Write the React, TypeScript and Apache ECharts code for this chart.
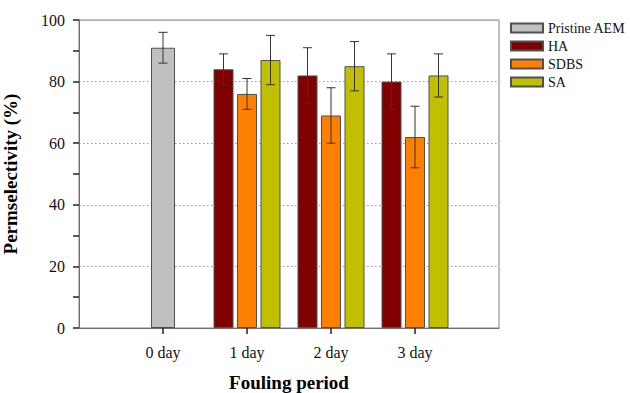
import React, { useEffect, useRef } from "react";
import * as echarts from "echarts";

const categories = ["", "0 day", "1 day", "2 day", "3 day", ""];
const seriesNames = ["Pristine AEM", "HA", "SDBS", "SA"];
const pristineValues = [null, 91, null, null, null, null];
const pristineErrors = [null, 5, null, null, null, null];
const haValues = [null, null, 84, 82, 80, null];
const haErrors = [null, null, 5, 9, 9, null];
const sdbsValues = [null, null, 76, 69, 62, null];
const sdbsErrors = [null, null, 5, 9, 10, null];
const saValues = [null, null, 87, 85, 82, null];
const saErrors = [null, null, 8, 8, 7, null];
const yTicks = [0, 20, 40, 60, 80, 100];

const FONT = "'Liberation Serif', 'Times New Roman', serif";
const colors = ["#c0c0c0", "#800000", "#ff8000", "#c0c000"];

function errData(vals: (number | null)[], errs: (number | null)[]) {
  const out: any[] = [];
  vals.forEach((v, i) => {
    const e = errs[i];
    if (v != null && e != null) out.push([i, v - e, v + e]);
  });
  return out;
}

function errSeries(name: string, vals: any[], errs: any[], offset: number, xAxisIndex: number) {
  return {
    type: "custom",
    name: name + " err",
    xAxisIndex,
    z: 10,
    silent: true,
    data: errData(vals, errs),
    renderItem: (params: any, api: any) => {
      const lo = api.coord([api.value(0), api.value(1)]);
      const hi = api.coord([api.value(0), api.value(2)]);
      const x = lo[0] + offset;
      const cap = 4.5;
      const style = { stroke: "#333", lineWidth: 1 };
      return {
        type: "group",
        children: [
          { type: "line", shape: { x1: x, y1: lo[1], x2: x, y2: hi[1] }, style },
          { type: "line", shape: { x1: x - cap, y1: lo[1], x2: x + cap, y2: lo[1] }, style },
          { type: "line", shape: { x1: x - cap, y1: hi[1], x2: x + cap, y2: hi[1] }, style },
        ],
      };
    },
  };
}

export default function App() {
  const ref = useRef<HTMLDivElement>(null);
  useEffect(() => {
    if (!ref.current) return;
    const chart = echarts.init(ref.current, null, { renderer: "svg" });
    const barItem = (c: string) => ({ color: c, borderColor: "#505050", borderWidth: 1 });
    const xBase = {
      type: "category",
      data: categories,
      boundaryGap: false,
    };
    chart.setOption({
      animation: false,
      textStyle: { fontFamily: FONT },
      grid: {
        left: 79,
        top: 20,
        right: 131,
        bottom: 65,
        show: true,
        borderColor: "#808080",
        borderWidth: 1,
        containLabel: false,
        outerBoundsMode: "none",
      },
      legend: {
        orient: "vertical",
        left: 505,
        top: 16,
        itemWidth: 32,
        itemHeight: 9,
        itemGap: 4,
        icon: "rect",
        data: seriesNames,
        textStyle: { fontFamily: FONT, fontSize: 14, color: "#111" },
      },
      xAxis: [
        {
          ...xBase,
          name: "Fouling period",
          nameLocation: "middle",
          nameGap: 45,
          nameTextStyle: { fontFamily: FONT, fontSize: 19, fontWeight: "bold", color: "#000" },
          axisLine: { lineStyle: { color: "#707070", width: 1 } },
          axisTick: {
            show: true,
            inside: false,
            length: 6,
            lineStyle: { color: "#222", width: 1.5 },
            interval: (i: number, v: string) => v !== "",
          },
          axisLabel: {
            fontFamily: FONT,
            fontSize: 16,
            color: "#111",
            margin: 16,
            interval: (i: number, v: string) => v !== "",
          },
          splitLine: { show: false },
        },
        { ...xBase, show: false },
      ],
      yAxis: {
        type: "value",
        min: 0,
        max: 100,
        interval: 20,
        name: "Permselectivity (%)",
        nameLocation: "middle",
        nameGap: 59,
        nameTextStyle: { fontFamily: FONT, fontSize: 19, fontWeight: "bold", color: "#000" },
        axisLine: { show: true, lineStyle: { color: "#707070", width: 1 } },
        axisTick: { show: true, length: 6, lineStyle: { color: "#222", width: 1.5 } },
        minorTick: { show: true, splitNumber: 2, length: 6, lineStyle: { color: "#222", width: 1.5 } },
        axisLabel: {
          fontFamily: FONT,
          fontSize: 16,
          color: "#111",
          margin: 14,
          formatter: (v: number) => (yTicks.includes(v) ? String(v) : ""),
        },
        splitLine: { show: true, lineStyle: { color: "#999", type: [1.5, 2.5], width: 1 } },
      },
      series: [
        {
          type: "bar",
          name: "Pristine AEM",
          xAxisIndex: 1,
          barWidth: 24,
          data: pristineValues,
          itemStyle: barItem(colors[0]),
        },
        {
          type: "bar",
          name: "HA",
          xAxisIndex: 0,
          barWidth: 20,
          barGap: "17.5%",
          data: haValues,
          itemStyle: barItem(colors[1]),
        },
        {
          type: "bar",
          name: "SDBS",
          xAxisIndex: 0,
          barWidth: 20,
          barGap: "17.5%",
          data: sdbsValues,
          itemStyle: barItem(colors[2]),
        },
        {
          type: "bar",
          name: "SA",
          xAxisIndex: 0,
          barWidth: 20,
          barGap: "17.5%",
          data: saValues,
          itemStyle: barItem(colors[3]),
        },
        errSeries("Pristine AEM", pristineValues, pristineErrors, 0, 1),
        errSeries("HA", haValues, haErrors, -23.5, 0),
        errSeries("SDBS", sdbsValues, sdbsErrors, 0, 0),
        errSeries("SA", saValues, saErrors, 23.5, 0),
      ],
    });
    return () => chart.dispose();
  }, []);
  return <div ref={ref} style={{ width: 630, height: 393, position: "absolute", left: 0, top: 0 }} />;
}
